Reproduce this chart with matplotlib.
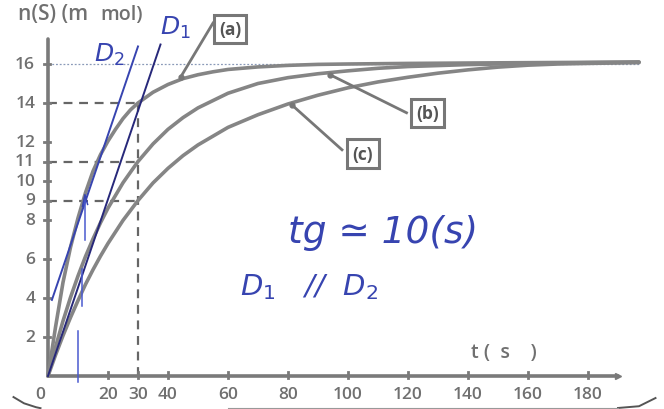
import numpy as np
import matplotlib.pyplot as plt

# ---------------- data ----------------
t_a = [0, 2.5, 5, 7.5, 10, 12.5, 15, 17.5, 20, 22.5, 25, 27.5, 30, 35, 40, 45, 50,
       55, 60, 70, 80, 90, 100, 120, 150, 197]
n_a = [0, 2.5, 4.8, 6.6, 8.1, 9.4, 10.5, 11.35, 12.05, 12.65, 13.2, 13.65, 14.0,
       14.55, 14.95, 15.25, 15.45, 15.6, 15.72, 15.85, 15.93, 15.98, 16.0, 16.03,
       16.06, 16.1]

t_b = [0, 2.5, 5, 7.5, 10, 12.5, 15, 17.5, 20, 25, 30, 35, 40, 45, 50, 60, 70, 80,
       90, 100, 110, 120, 140, 160, 197]
n_b = [0, 1.48, 2.82, 4.03, 5.13, 6.13, 7.03, 7.86, 8.61, 9.91, 11.0, 11.9, 12.65,
       13.25, 13.75, 14.5, 15.0, 15.3, 15.5, 15.65, 15.78, 15.87, 15.97, 16.03, 16.1]

t_c = [0, 2.5, 5, 7.5, 10, 12.5, 15, 17.5, 20, 25, 30, 35, 40, 45, 50, 60, 70, 80,
       90, 100, 110, 120, 130, 140, 150, 160, 170, 180, 197]
n_c = [0, 1.07, 2.07, 3.0, 3.87, 4.7, 5.45, 6.15, 6.8, 7.98, 9.0, 9.9, 10.65, 11.3,
       11.85, 12.75, 13.4, 13.95, 14.4, 14.78, 15.08, 15.32, 15.53, 15.7, 15.84,
       15.94, 16.0, 16.03, 16.07]

# hand-drawn straight lines D1, D2 (end points)
d1_t = [0, 37.5]
d1_n = [0, 17.0]
d2_t = [1.3, 30.0]
d2_n = [3.9, 16.9]

# reading guides
guide_levels = [14, 11, 9]
guide_t = 30

x_ticks = [20, 30, 40, 60, 80, 100, 120, 140, 160, 180]
y_ticks = [2, 4, 6, 8, 9, 10, 11, 12, 14, 16]

# small pen strokes (t, n)
strokes = [
    ([10, 10], [-0.3, 2.3]),
    ([12.3, 12.3], [7.0, 9.1]),
    ([11.4, 11.4], [3.6, 5.5]),
]

# ---------------- figure ----------------
GRAY = "#7a7a7a"
TXT = "#707070"
BLUE = "#3744b0"
NAVY = "#27287a"

fig = plt.figure(figsize=(6.64, 4.10), dpi=100)
ax = fig.add_axes([0, 0, 1, 1])
# pixel mapping: x = 48 + 3 t ; y = 377 - 19.5 n
ax.set_xlim(-48 / 3, (664 - 48) / 3)
ax.set_ylim((377 - 410) / 19.5, 377 / 19.5)
ax.axis("off")

font = "Open Sans"

# axes with arrows
ax.plot([0, 190], [0, 0], color=GRAY, lw=2.6, solid_capstyle="round", zorder=3)
ax.plot([0, 0], [0, 17.3], color=GRAY, lw=2.6, solid_capstyle="round", zorder=3)
ax.plot(190, 0, marker=">", color=GRAY, ms=5, zorder=3)

for xt in x_ticks:
    ax.plot([xt, xt], [-0.12, 0.2], color=GRAY, lw=2, zorder=3)
    ax.text(xt, -0.5, str(xt), ha="center", va="top", fontsize=12.5,
            color=TXT, family=font, fontweight="semibold")
ax.text(-2.5, -0.5, "0", ha="center", va="top", fontsize=12.5, color=TXT,
        family=font, fontweight="semibold")
for yt in y_ticks:
    ax.plot([-1.5, 0.8], [yt, yt], color=GRAY, lw=2, zorder=3)
    ax.text(-4.3, yt, str(yt), ha="right", va="center", fontsize=12.5,
            color=TXT, family=font, fontweight="semibold")

ax.text(-10, 18.6, "n(S) (m", ha="left", va="center", fontsize=15,
        color=TXT, family=font, fontweight="semibold")
ax.text(17.5, 18.55, "mol)", ha="left", va="center", fontsize=14,
        color=TXT, family=font, fontweight="semibold")
ax.text(141, 1.25, "t (  s    )", ha="left", va="center", fontsize=14,
        color=TXT, family=font, fontweight="semibold")

# 16 level dotted line
ax.plot([0, 197], [16, 16], color="#8a9ab8", lw=0.9, ls=(0, (1.5, 1.5)), zorder=1)

# dashed guides
for lv in guide_levels:
    ax.plot([0, guide_t], [lv, lv], color="#666666", lw=1.6, ls=(0, (4, 3)), zorder=2)
ax.plot([guide_t, guide_t], [0, 14], color="#666666", lw=1.6, ls=(0, (4, 3)), zorder=2)

# curves
for tt, nn in [(t_a, n_a), (t_b, n_b), (t_c, n_c)]:
    ax.plot(tt, nn, color="#858585", lw=2.6, solid_capstyle="round", zorder=4)

# labelled boxes with leaders
box = dict(boxstyle="square,pad=0.3", fc="white", ec="#777777", lw=2.2)
labels = [("(a)", (60.7, 17.8), (44.3, 15.35), (55.0, 18.1)),
          ("(b)", (126.5, 13.5), (94.0, 15.45), (119.5, 13.5)),
          ("(c)", (105.0, 11.4), (81.3, 13.9), (98.0, 11.6))]
for txt, pos, tip, start in labels:
    ax.plot([start[0], tip[0]], [start[1], tip[1]], color="#777777", lw=2, zorder=5)
    ax.plot(tip[0], tip[1], marker="o", color="#777777", ms=3.5, zorder=5)
    ax.text(pos[0], pos[1], txt, ha="center", va="center", fontsize=12.5,
            color="#555555", family=font, fontweight="bold", bbox=box, zorder=6)

# hand drawn lines and notes
ax.plot(d1_t, d1_n, color=NAVY, lw=1.4, zorder=7)
ax.plot(d2_t, d2_n, color=BLUE, lw=1.4, zorder=7)
for st, sn in strokes:
    ax.plot(st, sn, color="#4a5ad0", lw=1.1, zorder=7)
ax.plot([11.5, 12.3, 13.2], [8.7, 9.3, 8.8], color=BLUE, lw=1.1, zorder=7)

ax.text(20.5, 16.5, r"$D_2$", fontsize=18, ha="center", va="center",
        color=BLUE, zorder=8)
ax.text(42.5, 17.9, r"$D_1$", fontsize=18, ha="center", va="center",
        color=BLUE, zorder=8)
ax.text(80, 7.4, "tg ≃ 10(s)", fontsize=27, ha="left", va="center",
        color=BLUE, family="DejaVu Sans", fontstyle="italic", fontweight="light", zorder=8)
ax.text(64, 4.6, "D$_1$   //  D$_2$", fontsize=21, ha="left", va="center",
        color=BLUE, family="DejaVu Sans", fontstyle="italic", zorder=8)

# scan edges at the bottom
arc_t = np.array([-11.5, -8, -4, -2.5])
arc_n = np.array([-1.08, -1.4, -1.6, -1.65])
ax.plot(arc_t, arc_n, color="#555555", lw=1.4)
ax.plot([190, 197, 202.5], [-1.64, -1.55, -1.13], color="#555555", lw=1.4)
ax.plot([60, 190], [-1.66, -1.66], color="#999999", lw=0.8)

fig.savefig("out.png", dpi=100)
